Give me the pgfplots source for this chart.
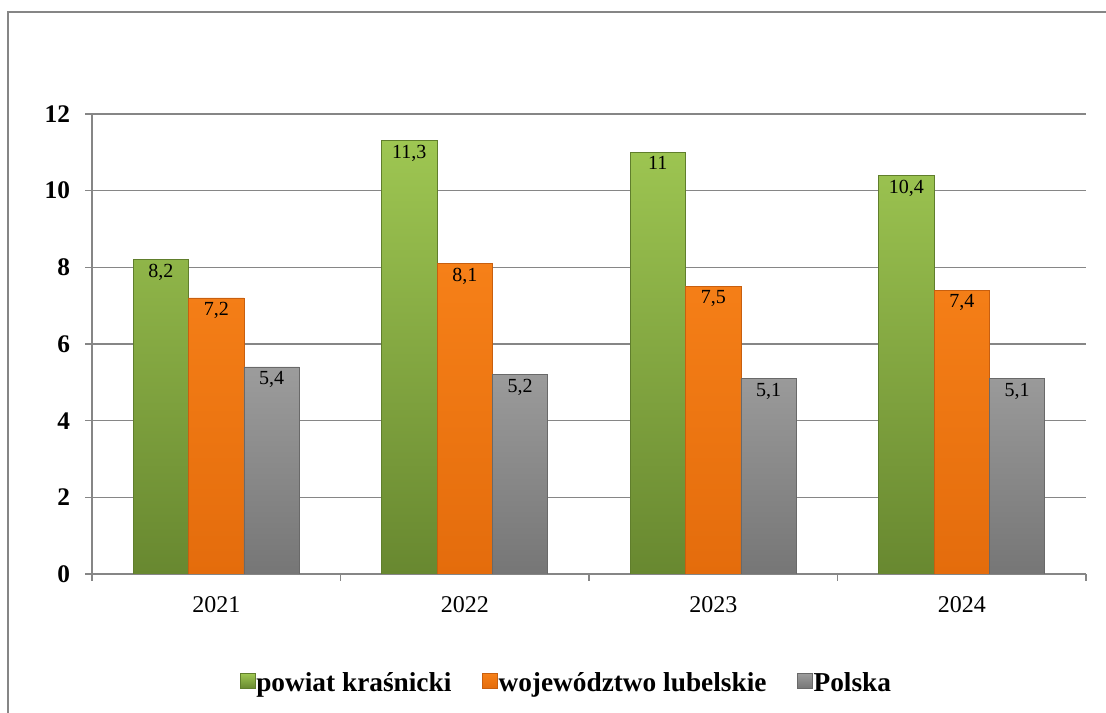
\documentclass[border=0pt]{standalone}
\usepackage{fontspec}
\setmainfont{Liberation Serif}
\usepackage{pgfplots}
\pgfplotsset{compat=1.18}
\definecolor{framegray}{RGB}{134,134,134}
\definecolor{greentop}{RGB}{158,198,82}
\definecolor{greenbot}{RGB}{104,136,48}
\definecolor{greenedge}{RGB}{96,126,44}
\definecolor{orangetop}{RGB}{246,128,24}
\definecolor{orangebot}{RGB}{228,108,12}
\definecolor{orangeedge}{RGB}{200,95,15}
\definecolor{graytop}{RGB}{156,156,156}
\definecolor{graybot}{RGB}{118,118,118}
\definecolor{grayedge}{RGB}{105,105,105}

\begin{document}
\begin{tikzpicture}
\useasboundingbox (-69pt,-104.25pt) rectangle (760.5pt,430.5pt);
% outer chart frame (only top and left edges are visible)
\draw[framegray, line width=1.4pt] (-63pt,-110pt) -- (-63pt,421.5pt) -- (770pt,421.5pt);
\begin{axis}[
    at={(0,0)}, anchor=south west,
    scale only axis, width=745.5pt, height=345pt,
    xmin=-0.5, xmax=3.5, ymin=0, ymax=12,
    ytick={0,2,...,12},
    xtick={-0.5,0.5,1.5,2.5,3.5},
    x tick label as interval,
    xticklabels={2021,2022,2023,2024},
    axis lines*=left,
    axis line style={framegray, line width=1.2pt},
    tick style={framegray, line width=1.2pt},
    tick align=outside, major tick length=5pt,
    ymajorgrids, grid style={framegray, line width=1.2pt},
    /pgf/number format/assume math mode=true,
    /pgf/number format/use comma,
    yticklabel style={font=\fontsize{19}{21}\selectfont\bfseries, xshift=-8pt},
    xticklabel style={font=\fontsize{18}{20}\selectfont, yshift=-8pt},
    ybar, bar width=0.223,
    nodes near coords,
    every node near coord/.append style={anchor=north, text=black,
        font=\fontsize{15}{17}\selectfont, inner sep=3pt},
    legend columns=3,
    legend style={draw=none, fill=none, at={(0.477,-0.237)}, anchor=center,
        font=\fontsize{20.5}{22}\selectfont\bfseries,
        nodes={inner sep=1pt},
        /tikz/every even column/.append style={column sep=22pt}},
    legend image code/.code={\draw[#1, line width=0.3pt] (0pt,-4pt) rectangle (11pt,7pt);},
]
\addplot[bar shift=-0.223, top color=greentop, bottom color=greenbot, draw=greenedge, line width=0.6pt]
    coordinates {(0,8.2) (1,11.3) (2,11) (3,10.4)};
\addlegendentry{powiat kraśnicki}
\addplot[bar shift=0, top color=orangetop, bottom color=orangebot, draw=orangeedge, line width=0.6pt]
    coordinates {(0,7.2) (1,8.1) (2,7.5) (3,7.4)};
\addlegendentry{województwo lubelskie}
\addplot[bar shift=0.223, top color=graytop, bottom color=graybot, draw=grayedge, line width=0.6pt]
    coordinates {(0,5.4) (1,5.2) (2,5.1) (3,5.1)};
\addlegendentry{Polska}
\end{axis}
\end{tikzpicture}
\end{document}
